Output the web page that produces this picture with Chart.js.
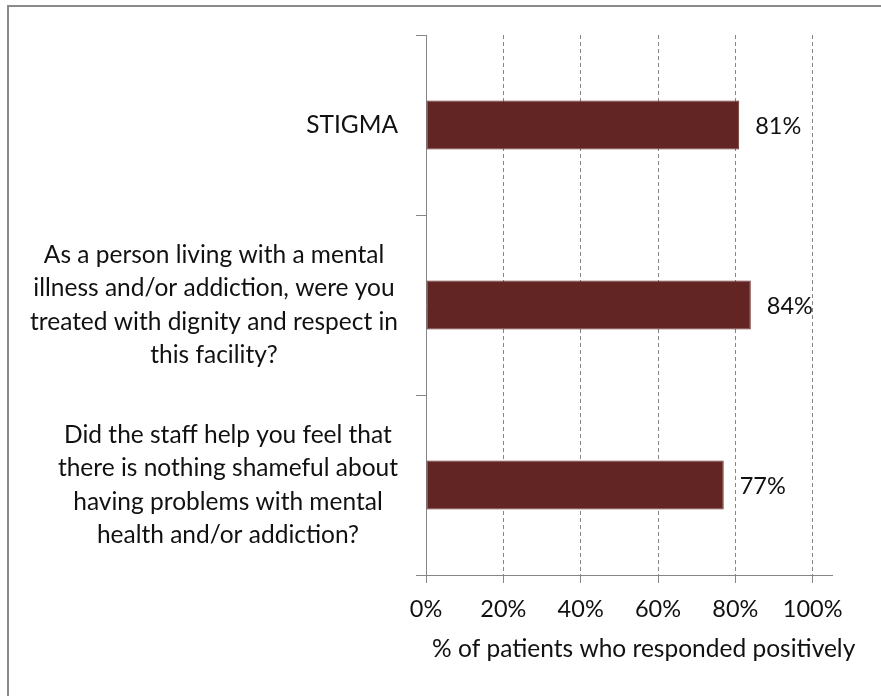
<!DOCTYPE html>
<html><head><meta charset="utf-8">
<script src="https://cdn.jsdelivr.net/npm/chart.js@4"></script>
<style>html,body{margin:0;padding:0;background:#fff;}canvas{display:block}</style>
</head><body>
<canvas id="c" width="881" height="696"></canvas>
<script>
const categories = [
  ["STIGMA"],
  ["As a person living with a mental", "illness and/or addiction, were you", "treated with dignity and respect in", "this facility?"],
  ["Did the staff help you feel that", "there is nothing shameful about", "having problems with mental", "health and/or addiction?"]
];
const values = [81, 84, 77];
const xTickValues = [0, 20, 40, 60, 80, 100];
const xAxisTitle = "% of patients who responded positively";
const seriesName = "% of patients who responded positively";

const FONT = "Lato";
const TEXT = "#111111";
const GRAY = "#868686";

const customText = {
  id: 'customText',
  beforeDraw(chart) {
    const ctx = chart.ctx;
    ctx.save();
    ctx.fillStyle = '#fff';
    ctx.fillRect(0, 0, chart.width, chart.height);
    ctx.strokeStyle = '#8a8a8a';
    ctx.lineWidth = 2;
    ctx.strokeRect(8, 6, 1000, 1000);
    ctx.restore();
  },
  afterDatasetsDraw(chart) {
    const ctx = chart.ctx;
    const meta = chart.getDatasetMeta(0);
    ctx.save();
    ctx.font = `23.5px ${FONT}`;
    ctx.fillStyle = TEXT;
    ctx.textAlign = 'left';
    ctx.textBaseline = 'middle';
    meta.data.forEach((bar, i) => {
      ctx.fillText(values[i] + '%', bar.x + 16, bar.y + 1);
    });
    ctx.restore();
  },
  afterDraw(chart) {
    const ctx = chart.ctx;
    const ys = chart.scales.y;
    const xs = chart.scales.x;
    ctx.save();
    ctx.font = `24.5px ${FONT}`;
    ctx.fillStyle = TEXT;
    ctx.textAlign = 'center';
    ctx.textBaseline = 'middle';
    const lh = 33.3;
    categories.forEach((lines, i) => {
      const yc = ys.getPixelForValue(i);
      let maxW = 0;
      lines.forEach(l => { maxW = Math.max(maxW, ctx.measureText(l).width); });
      const cx = ys.right - 28 - maxW / 2;
      lines.forEach((l, k) => {
        ctx.fillText(l, cx, yc + (k - (lines.length - 1) / 2) * lh);
      });
    });
    ctx.fillText(xAxisTitle, xs.getPixelForValue(56.3), 649);
    ctx.restore();
  }
};

new Chart(document.getElementById('c'), {
  type: 'bar',
  data: {
    labels: categories,
    datasets: [{
      label: seriesName,
      data: values,
      backgroundColor: '#632523',
      borderColor: '#6a302e',
      borderWidth: 1,
      borderSkipped: false,
      barPercentage: 0.272,
      categoryPercentage: 1
    }]
  },
  options: {
    indexAxis: 'y',
    responsive: false,
    animation: false,
    devicePixelRatio: 1,
    layout: { padding: { top: 35, right: 49, left: 0, bottom: 0 } },
    plugins: { legend: { display: false }, tooltip: { enabled: false } },
    scales: {
      x: {
        type: 'linear',
        min: 0,
        max: 105,
        afterBuildTicks(scale) {
          scale.ticks = xTickValues.map(v => ({ value: v }));
        },
        afterFit(scale) { scale.height = 121; },
        ticks: {
          callback: v => v + '%',
          font: { family: FONT, size: 23.5 },
          color: TEXT,
          padding: 12,
          maxRotation: 0,
          autoSkip: false
        },
        grid: {
          color: GRAY,
          lineWidth: 1,
          drawTicks: true,
          tickLength: 8,
          tickColor: GRAY,
          tickBorderDash: []
        },
        border: { display: true, color: GRAY, width: 1, dash: [4, 3] }
      },
      y: {
        type: 'category',
        offset: true,
        afterFit(scale) { scale.width = 426; },
        ticks: { display: false },
        grid: {
          display: true,
          offset: true,
          drawOnChartArea: false,
          drawTicks: true,
          tickLength: 10,
          tickColor: GRAY,
          color: GRAY
        },
        border: { display: true, color: GRAY, width: 1 }
      }
    }
  },
  plugins: [customText]
});
</script>
</body></html>
